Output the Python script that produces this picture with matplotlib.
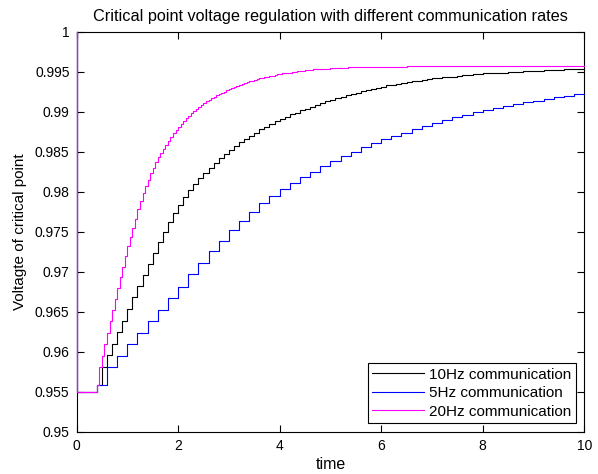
import numpy as np
import matplotlib
matplotlib.use("Agg")
import matplotlib.pyplot as plt
from matplotlib.ticker import FormatStrFormatter

plt.rcParams['font.family'] = ['Liberation Sans', 'DejaVu Sans']
plt.rcParams['font.size'] = 10

# common start: value at t=0, settled value, small jump at 0.4 s
init_t = [0.0, 0.0, 0.4]
init_v = [1.0, 0.955, 0.9559]

# 10Hz: updates every 0.1 s from 0.5 s
t0_10, dt_10 = 0.5, 0.1
v_10hz = [
    .9581, .9596, .9610, .9625, .9639, .9654, .9668, .9682, .9696, .9710,
    .9724, .9737, .9750, .9762, .9773, .9784, .9794, .9802, .9810, .9817,
    .9824, .9830, .9836, .9842, .9847, .9852, .9857, .9862, .9866, .9870,
    .9874, .9878, .9881, .9885, .9888, .9891, .9894, .9897, .9899, .9902,
    .9904, .9906, .9909, .9911, .9913, .9915, .9917, .9919, .9921, .9922,
    .9924, .9926, .9927, .9929, .9930, .9931, .9933, .9934, .9935, .9936,
    .9937, .9938, .9939, .9940, .9941, .9942, .9942, .9943, .9944, .9944,
    .9945, .9946, .9946, .9947, .9947, .9948, .9948, .9949, .9949, .9949,
    .9950, .9950, .9950, .9951, .9951, .9951, .9951, .9952, .9952, .9952,
    .9952, .9953, .9953, .9953, .9953,
]

# 5Hz: updates every 0.2 s from 0.6 s
t0_5, dt_5 = 0.6, 0.2
v_5hz = [
    .9581, .9595, .9610, .9624, .9638, .9652, .9667, .9681, .9697, .9711,
    .9726, .9739, .9752, .9764, .9775, .9786, .9795, .9804, .9811, .9819,
    .9825, .9832, .9838, .9845, .9850, .9856, .9861, .9866, .9870, .9874,
    .9878, .9882, .9886, .9890, .9893, .9896, .9900, .9902, .9905, .9907,
    .9910, .9912, .9914, .9916, .9918, .9920, .9922,
]

# 20Hz: updates every 0.05 s from 0.45 s
t0_20, dt_20 = 0.45, 0.05
v_20hz = [
    .9581, .9595, .9610, .9624, .9638, .9652, .9666, .9680, .9693, .9706, .9720,
    .9732, .9744, .9755, .9766, .9778, .9789, .9799, .9807, .9815, .9823,
    .9830, .9837, .9843, .9849, .9854, .9859, .9864, .9869, .9873, .9877,
    .9881, .9885, .9888, .9892, .9895, .9898, .9901, .9903, .9906, .9908,
    .9911, .9913, .9915, .9917, .9919, .9921, .9922, .9924, .9925, .9927,
    .9928, .9930, .9931, .9932, .9933, .9935, .9936, .9937, .9938, .9939,
    .9940, .9941, .9942, .9942, .9943, .9944, .9945, .9945, .9946, .9947,
    .9947, .9948, .9948, .9949, .9949, .9950, .9950, .9951, .9951, .9951,
    .9952, .9952, .9952, .9953, .9953, .9953, .9954, .9954, .9954, .9954,
    .9955, .9955, .9955, .9955, .9955, .9955, .9955, .9956, .9956, .9956,
    .9956, .9956, .9956, .9956, .9956, .9956, .9956, .9956, .9956, .9956,
    .9956, .9956, .9956, .9956, .9956, .9956, .9956, .9956, .9956, .9956,
    .9957, .9957, .9957, .9957, .9957, .9957, .9957, .9957, .9957, .9957,
    .9957, .9957, .9957, .9957, .9957, .9957, .9957, .9957, .9957, .9957,
    .9957, .9957, .9957, .9957, .9957, .9957, .9957, .9957, .9957, .9957,
    .9957, .9957, .9957, .9957, .9957, .9957, .9957, .9957, .9957, .9957,
    .9957, .9957, .9957, .9957, .9957, .9957, .9957, .9957, .9957, .9957,
    .9957, .9957, .9957, .9957, .9957, .9957, .9957, .9957, .9957, .9957,
    .9957, .9957, .9957, .9957, .9957, .9957, .9957, .9957, .9957, .9957,
]

labels = ["10Hz communication", "5Hz communication", "20Hz communication"]
colors = ["k", "#0000ff", "#ff00ff"]
t_end = 10


def build(t0, dt, vals):
    tu = t0 + dt * np.arange(len(vals))
    t = np.concatenate([init_t, tu, [t_end]])
    v = np.concatenate([init_v, vals, [vals[-1]]])
    return t, v


series = [build(t0_10, dt_10, v_10hz), build(t0_5, dt_5, v_5hz), build(t0_20, dt_20, v_20hz)]

fig = plt.figure(figsize=(5.98, 4.74), dpi=100)
ax = fig.add_axes([0.128, 0.089, 0.849, 0.844])

for (t, v), lab, c in zip(series, labels, colors):
    ax.plot(t, v, drawstyle="steps-post", color=c, lw=0.8, label=lab, zorder=3, clip_on=False)

ax.set_xlim(0, 10)
ax.set_ylim(0.95, 1.0)
ax.set_xticks(np.arange(0, 11, 2))
ax.set_yticks(np.arange(0.95, 1.0001, 0.005))
ax.yaxis.set_major_formatter(FormatStrFormatter('%g'))
ax.tick_params(direction="in", top=True, right=True, length=5, width=0.8, labelsize=10, pad=5)
for s in ax.spines.values():
    s.set_linewidth(0.8)

ax.set_title("Critical point voltage regulation with different communication rates", fontsize=11.7, pad=8)
ax.set_xlabel("time", fontsize=11.5, labelpad=3)
ax.set_ylabel("Voltagte of critical point", fontsize=11, labelpad=6)

leg = ax.legend(loc="lower right", fontsize=11, fancybox=False, framealpha=1,
                edgecolor="k", borderaxespad=0.55, handlelength=3.4, labelspacing=0.3,
                borderpad=0.3, handletextpad=0.3)
leg.get_frame().set_linewidth(0.8)

fig.savefig("out.png", dpi=100)
